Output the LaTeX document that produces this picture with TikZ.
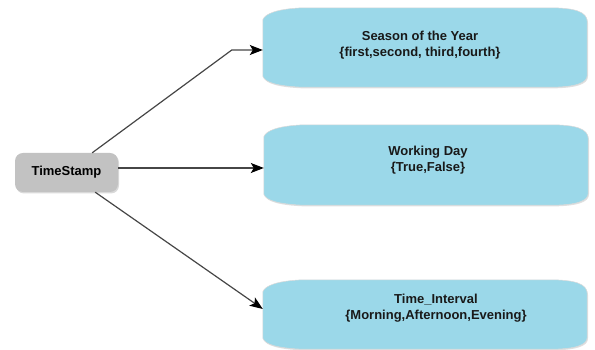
\documentclass[tikz,border=0pt]{standalone}
\usepackage{fontspec}
\setmainfont{Liberation Sans}
\usetikzlibrary{calc,shadows,arrows.meta}
\definecolor{boxblue}{RGB}{155,216,233}
\definecolor{tsgray}{RGB}{194,194,194}
\definecolor{linegray}{RGB}{70,70,70}
\newcommand\bluebox[1]{%
 \filldraw[fill=boxblue, draw=black!15, line width=0.5pt, drop shadow={shadow xshift=0.8pt,shadow yshift=-1.2pt,opacity=0.25}]
  ([yshift=-12pt]#1.north west)
  .. controls ([xshift=2pt,yshift=-6pt]#1.north west) and ([xshift=14pt,yshift=-1pt]#1.north west) .. ([xshift=40pt]#1.north west)
  -- ([xshift=-38pt]#1.north east)
  .. controls ([xshift=-12pt]#1.north east) and ([yshift=-4pt]#1.north east) .. ([yshift=-14pt]#1.north east)
  -- ([yshift=12pt]#1.south east)
  .. controls ([yshift=4pt]#1.south east) and ([xshift=-12pt]#1.south east) .. ([xshift=-38pt]#1.south east)
  -- ([xshift=40pt]#1.south west)
  .. controls ([xshift=14pt,yshift=1pt]#1.south west) and ([xshift=2pt,yshift=5pt]#1.south west) .. ([yshift=11pt]#1.south west)
  -- cycle;}
\begin{document}
\begin{tikzpicture}[x=1pt,y=1pt,
  boxnode/.style={rectangle,inner sep=0pt,draw=none,minimum width=324pt},
  boxtext/.style={align=center,inner sep=0pt,font=\fontsize{13}{16}\selectfont\bfseries,text=black!90},
  tsnode/.style={rectangle,rounded corners=8pt,fill=tsgray,minimum width=103pt,minimum height=39pt,inner sep=0pt,
    font=\fontsize{13}{15}\selectfont\bfseries,drop shadow={shadow xshift=1pt,shadow yshift=-1.5pt,opacity=0.3}},
  conn/.style={draw=linegray,line width=1.2pt,-{Stealth[length=13pt,width=10pt,inset=3pt,color=black]}}]
\useasboundingbox (0,0) rectangle (595,350);
\node[boxnode,minimum height=79pt] (b1) at (425,302.5) {};
\node[boxnode,minimum height=80pt] (b2) at (426,185) {};
\node[boxnode,minimum height=69pt] (b3) at (425,35.5) {};
\bluebox{b1}
\bluebox{b2}
\bluebox{b3}
\node[boxtext] (t1) at (420,305) {Season of the Year\\\{first,second, third,fourth\}};
\node[boxtext] (t2) at (428,190) {Working Day\\\{True,False\}};
\node[boxtext] (t3) at (436,42) {Time\_Interval\\\{Morning,Afternoon,Evening\}};
\node[tsnode] (ts) at (66.5,177.5) {TimeStamp};
\draw[conn] ([xshift=-26pt]ts.north east) -- ([xshift=-31pt,yshift=-2.5pt]b1.west) -- ([yshift=-2.5pt]b1.west);
\draw[conn] ([yshift=4.5pt]ts.east) -- ([yshift=4.5pt]ts.east -| b2.west);
\draw[conn] ([xshift=-23pt]ts.south east) -- ([yshift=5.5pt]b3.west);
\end{tikzpicture}
\end{document}
